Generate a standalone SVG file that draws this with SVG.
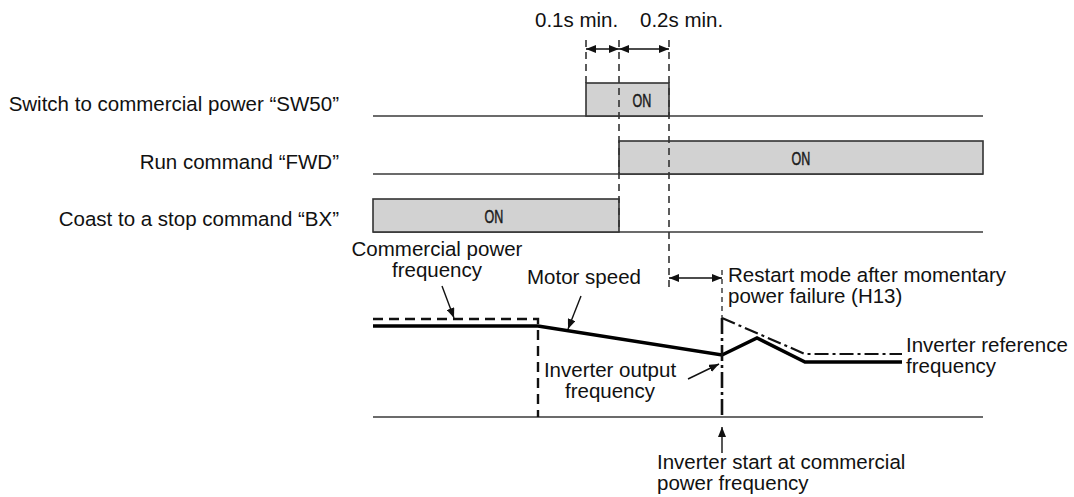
<svg xmlns="http://www.w3.org/2000/svg" width="1074" height="497" viewBox="0 0 1074 497">
<style>
  .t { font-family: "Liberation Sans", Arial, sans-serif; font-size: 20.5px; fill: #111; }
  .on { font-family: "Liberation Sans", Arial, sans-serif; font-size: 19px; fill: #1a1a1a; text-anchor: middle; stroke: #1a1a1a; stroke-width: 0.5; }
  .base { stroke: #3a3a3a; stroke-width: 1.6; fill: none; }
  .pulse { fill: #d2d2d2; stroke: #333; stroke-width: 1.6; }
  .tdash { stroke: #333; stroke-width: 1.6; stroke-dasharray: 7 5; fill: none; }
  .dim { stroke: #111; stroke-width: 1.3; fill: none; }
  .lead { stroke: #111; stroke-width: 1.4; fill: none; }
  .motor { stroke: #000; stroke-width: 3.6; fill: none; stroke-linejoin: miter; }
  .comm { stroke: #111; stroke-width: 2.4; stroke-dasharray: 10 6; fill: none; }
  .ref { stroke: #111; stroke-width: 2.2; stroke-dasharray: 14 4 3 4; fill: none; }
  .vdd { stroke: #111; stroke-width: 2.6; stroke-dasharray: 16 4 3 4; fill: none; }
</style>
<defs>
  <marker id="ah" viewBox="0 0 10 8" refX="10" refY="4" markerWidth="10" markerHeight="8" markerUnits="userSpaceOnUse" orient="auto-start-reverse">
    <path d="M0,0 L10,4 L0,8 Z" fill="#111"/>
  </marker>
</defs>

<g id="sw50">
  <text class="t" x="339" y="111" text-anchor="end">Switch to commercial power “SW50”</text>
  <line class="base" x1="373" y1="116" x2="983" y2="116"/>
  <rect class="pulse" x="586" y="83" width="83" height="33"/>
  <text class="on" transform="translate(642,107) scale(0.66,1)">ON</text>
</g>

<g id="fwd">
  <text class="t" x="339" y="169" text-anchor="end">Run command “FWD”</text>
  <line class="base" x1="373" y1="174" x2="983" y2="174"/>
  <rect class="pulse" x="619" y="141" width="364" height="33"/>
  <text class="on" transform="translate(801,165) scale(0.66,1)">ON</text>
</g>

<g id="bx">
  <text class="t" x="339" y="226" text-anchor="end">Coast to a stop command “BX”</text>
  <line class="base" x1="373" y1="232" x2="983" y2="232"/>
  <rect class="pulse" x="373" y="199" width="246" height="33"/>
  <text class="on" transform="translate(494,223) scale(0.66,1)">ON</text>
</g>

<g id="timing">
  <line class="tdash" x1="586" y1="40" x2="586" y2="83"/>
  <line class="tdash" x1="619" y1="40" x2="619" y2="232"/>
  <line class="tdash" x1="669" y1="40" x2="669" y2="291"/>
  <text class="t" x="535" y="27">0.1s min.</text>
  <text class="t" x="640" y="27">0.2s min.</text>
</g>

<g id="frequency-chart">
  <line class="base" x1="373" y1="417" x2="983" y2="417"/>
  <polyline class="comm" points="373,319 538,319 538,417"/>
  <polyline class="motor" points="373,326 538,326 722,355 757,338 805,362 902,362"/>
  <polyline class="ref" points="722,318 805,354 902,354"/>
  <line class="tdash" x1="722" y1="270" x2="722" y2="318" style="stroke-width:1.4;stroke-dasharray:5 4"/>
  <line class="vdd" x1="722" y1="318" x2="722" y2="417"/>
</g>

<g id="labels">
  <text class="t" x="437" y="256" text-anchor="middle">Commercial power</text>
  <text class="t" x="437" y="277" text-anchor="middle">frequency</text>
  <text class="t" x="527" y="284">Motor speed</text>
  <text class="t" x="728" y="282">Restart mode after momentary</text>
  <text class="t" x="728" y="303">power failure (H13)</text>
  <text class="t" x="610" y="377" text-anchor="middle">Inverter output</text>
  <text class="t" x="610" y="398" text-anchor="middle">frequency</text>
  <text class="t" x="906" y="352">Inverter reference</text>
  <text class="t" x="906" y="373">frequency</text>
  <text class="t" x="657" y="469">Inverter start at commercial</text>
  <text class="t" x="657" y="490">power frequency</text>
</g>

<g id="connectors">
  <line class="dim" x1="586" y1="49" x2="619" y2="49" marker-start="url(#ah)" marker-end="url(#ah)"/>
  <line class="dim" x1="619" y1="49" x2="669" y2="49" marker-start="url(#ah)" marker-end="url(#ah)"/>
  <line class="dim" x1="669" y1="278" x2="722" y2="278" marker-start="url(#ah)" marker-end="url(#ah)"/>
  <line class="lead" x1="442" y1="286" x2="454" y2="318" marker-end="url(#ah)"/>
  <line class="lead" x1="581" y1="296" x2="568" y2="329" marker-end="url(#ah)"/>
  <line class="lead" x1="688" y1="379" x2="719" y2="364" marker-end="url(#ah)"/>
  <line class="lead" x1="722" y1="453" x2="722" y2="427" marker-end="url(#ah)"/>
</g>
</svg>
